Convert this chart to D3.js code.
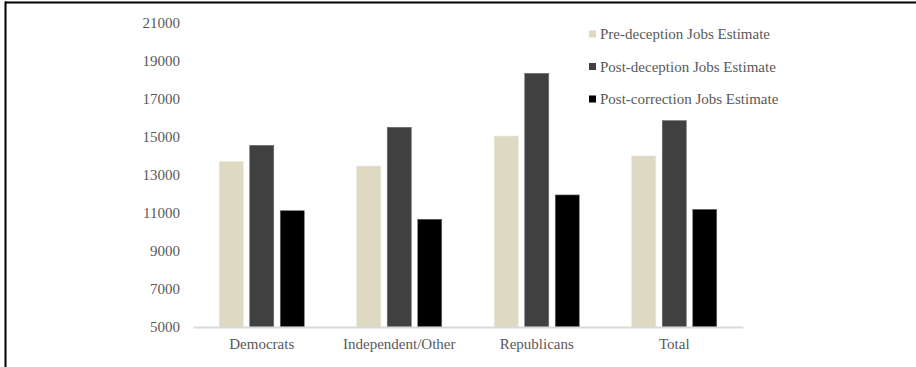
<!DOCTYPE html>
<html>
<head>
<meta charset="utf-8">
<script src="https://cdn.jsdelivr.net/npm/d3@7"></script>
<style>
  html, body { margin: 0; padding: 0; background: #fff; }
  svg { display: block; }
  text { font-family: "Liberation Serif", "Times New Roman", serif; }
</style>
</head>
<body>
<svg id="chart" width="916" height="367"></svg>
<script>
const categories = ["Democrats", "Independent/Other", "Republicans", "Total"];
const seriesNames = ["Pre-deception Jobs Estimate", "Post-deception Jobs Estimate", "Post-correction Jobs Estimate"];
const preDeception = [13700, 13470, 15050, 14000];
const postDeception = [14560, 15510, 18350, 15860];
const postCorrection = [11120, 10670, 11950, 11190];
const yTicks = [5000, 7000, 9000, 11000, 13000, 15000, 17000, 19000, 21000];
const seriesColors = ["#DDD9C3", "#404040", "#000000"];

const seriesValues = [preDeception, postDeception, postCorrection];

const svg = d3.select("#chart");
const W = 916, H = 367;
const FONT = '"Liberation Serif", "Times New Roman", serif';

// frame (top and left edges as in the reference crop)
svg.append("line").attr("x1", 5).attr("x2", W).attr("y1", 2.5).attr("y2", 2.5)
  .attr("stroke", "#000").attr("stroke-width", 2);
svg.append("line").attr("x1", 5.5).attr("x2", 5.5).attr("y1", 1.5).attr("y2", H)
  .attr("stroke", "#000").attr("stroke-width", 2);

const plot = { left: 193, right: 743, top: 23, bottom: 327 };
const groupW = 85;

const x0 = d3.scaleBand().domain(categories).range([plot.left, plot.right]).paddingInner(0).paddingOuter(0);
const x1 = d3.scaleBand().domain(d3.range(seriesNames.length)).range([0, groupW]).paddingInner(0.213).paddingOuter(0);
const y = d3.scaleLinear().domain([5000, 21000]).range([plot.bottom, plot.top]);

// y axis labels
const yAxis = svg.append("g").attr("transform", `translate(${plot.left},0)`)
  .call(d3.axisLeft(y).tickValues(yTicks).tickSize(0).tickPadding(13).tickFormat(d3.format("d")));
yAxis.select(".domain").remove();
yAxis.selectAll("text").attr("fill", "#595959").style("font-size", "15px").style("font-family", FONT);

// bars
const groups = svg.append("g").selectAll("g").data(categories).join("g")
  .attr("transform", d => `translate(${x0(d) + (x0.bandwidth() - groupW) / 2},0)`);
groups.selectAll("rect").data((c, ci) => seriesValues.map((arr, si) => ({ si, v: arr[ci] })))
  .join("rect")
  .attr("x", d => x1(d.si))
  .attr("width", x1.bandwidth())
  .attr("y", d => y(d.v))
  .attr("height", d => y(5000) - y(d.v))
  .attr("fill", d => seriesColors[d.si])
  .attr("stroke", d => d.si === 0 ? "#e8e5d6" : "#6a6a6a")
  .attr("stroke-width", 0.6);

// x axis
const xAxis = svg.append("g").attr("transform", `translate(0,${plot.bottom})`)
  .call(d3.axisBottom(x0).tickSize(0).tickPadding(11));
xAxis.select(".domain").attr("stroke", "#d9d9d9").attr("stroke-width", 2);
xAxis.selectAll("text").attr("fill", "#595959").style("font-size", "15px").style("font-family", FONT);

// legend
const legendY = d3.scalePoint().domain(seriesNames).range([34, 99]);
const legend = svg.append("g").selectAll("g").data(seriesNames).join("g")
  .attr("transform", d => `translate(589,${legendY(d)})`);
legend.append("rect").attr("x", 0).attr("y", -3.5).attr("width", 7).attr("height", 7)
  .attr("fill", (d, i) => seriesColors[i]);
legend.append("text").attr("x", 11).attr("y", 0).attr("dy", "0.35em")
  .attr("fill", "#595959").style("font-size", "15px").style("font-family", FONT).text(d => d);
</script>
</body>
</html>
